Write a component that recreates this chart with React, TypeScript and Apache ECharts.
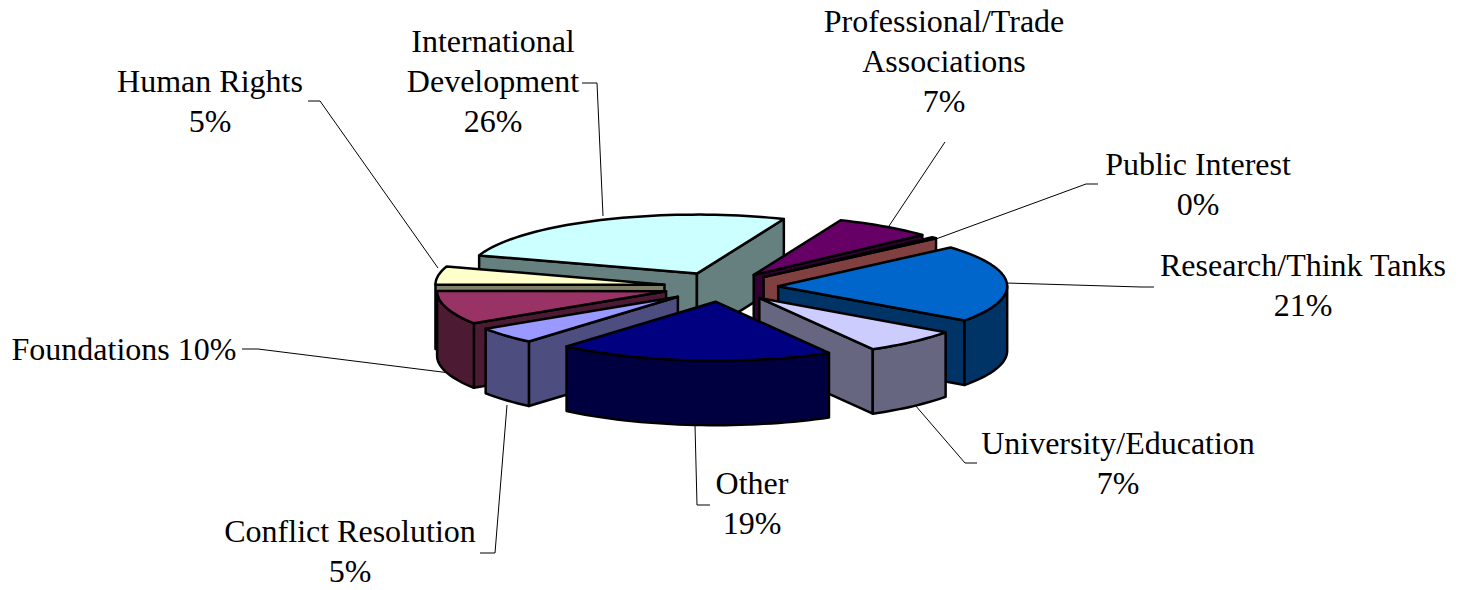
import React, { useEffect, useRef } from "react";
import * as echarts from "echarts";

const names = ["International Development", "Professional/Trade Associations", "Public Interest", "Research/Think Tanks", "University/Education", "Other", "Conflict Resolution", "Foundations", "Human Rights"];
const shares = [26.3, 7.0, 0.4, 21.4, 6.9, 19.6, 4.6, 9.2, 5.0];
const topColors = ["#CCFFFF", "#660066", "#FF8080", "#0066CC", "#CCCCFF", "#000080", "#9999FF", "#993366", "#FFFFCC"];
const sideColors = ["#668080", "#330033", "#804040", "#003366", "#666680", "#000040", "#4D4D80", "#4D1A33", "#808066"];
const drawOrder = [0, 8, 7, 1, 2, 3, 4, 6, 5];

const labelLines = [["International", "Development", "26%"], ["Professional/Trade", "Associations", "7%"], ["Public Interest", "0%"], ["Research/Think Tanks", "21%"], ["University/Education", "7%"], ["Other", "19%"], ["Conflict Resolution", "5%"], ["Foundations 10%"], ["Human Rights", "5%"]];
const labelAnchors = [[493, 81], [944, 61], [1198, 184], [1303, 285], [1118, 463], [752, 503], [350, 551], [124, 349], [210, 101]];
const leaders = [
  [[582, 83], [597, 83], [603, 216]],
  [[945, 142], [889, 226]],
  [[1098, 184], [1086, 184], [925, 243]],
  [[1154, 287], [1141, 287], [1006, 283]],
  [[977, 463], [965, 463], [915, 405]],
  [[710, 505], [697, 505], [695, 425]],
  [[480, 553], [495, 553], [507, 405]],
  [[242, 349], [258, 349], [450, 373]],
  [[308, 101], [320, 101], [438, 268]],
];

const CX = 721, CY = 287, RX = 229, RY = 59, EXPLODE = 0.25, DEPTH = 64.5, START = 288;
const LINE_STEP = 40;
const total = shares.reduce((a, b) => a + b, 0);

function sliceRange(i: number) {
  let acc = 0;
  for (let k = 0; k < i; k++) acc += shares[k];
  return [START + (acc / total) * 360, START + ((acc + shares[i]) / total) * 360];
}

function renderItem(params: any, api: any) {
  const i = api.value(0);
  const [a0, a1] = sliceRange(i);
  const mid = ((a0 + a1) / 2) * Math.PI / 180;
  const tipX = CX + EXPLODE * RX * Math.sin(mid);
  const tipY = CY - EXPLODE * RY * Math.cos(mid);
  const pt = (deg: number) => {
    const r = deg * Math.PI / 180;
    return [tipX + RX * Math.sin(r), tipY - RY * Math.cos(r)];
  };
  const arc = (d0: number, d1: number) => {
    const out: number[][] = [];
    const n = Math.max(1, Math.ceil((d1 - d0) / 2));
    for (let k = 0; k <= n; k++) out.push(pt(d0 + ((d1 - d0) * k) / n));
    return out;
  };
  const down = (p: number[]) => [p[0], p[1] + DEPTH];
  const tip = [tipX, tipY];
  const faceStyle = (fill: string) => ({ fill, stroke: "#000", lineWidth: 2.5, lineJoin: "round" });
  const children: any[] = [];
  const quad = (p: number[], q: number[]) => children.push({ type: "polygon", shape: { points: [p, q, down(q), down(p)] }, style: faceStyle(sideColors[i]) });
  const ps = pt(a0), pe = pt(a1);
  if (ps[0] < tipX) quad(tip, ps);
  if (pe[0] > tipX) quad(pe, tip);
  const a0n = a0 >= 360 ? a0 - 360 : a0, a1n = a0 >= 360 ? a1 - 360 : a1;
  const l = Math.max(a0n, 90), h = Math.min(a1n, 270);
  if (h > l) {
    const top = arc(l, h);
    children.push({ type: "polygon", shape: { points: [...top, ...top.slice().reverse().map(down)] }, style: faceStyle(sideColors[i]) });
  }
  children.push({ type: "polygon", shape: { points: [tip, ...arc(a0, a1)] }, style: faceStyle(topColors[i]) });
  return { type: "group", children };
}

export default function App() {
  const ref = useRef<HTMLDivElement>(null);
  useEffect(() => {
    const chart = echarts.init(ref.current!, null, { renderer: "svg" });
    chart.setOption({
      animation: false,
      backgroundColor: "#fff",
      series: [{
        type: "custom",
        coordinateSystem: "none",
        renderItem,
        silent: true,
        z: 2,
        data: drawOrder.map((i) => ({ name: names[i], value: [i, shares[i]] })),
      }],
      graphic: [
        ...leaders.map((points) => ({ type: "polyline", z: 1, silent: true, shape: { points }, style: { stroke: "#000", lineWidth: 1, fill: "none" } })),
        ...labelLines.flatMap((lines, i) => lines.map((text, k) => ({
          type: "text", z: 5, silent: true, x: labelAnchors[i][0], y: labelAnchors[i][1] + (k - (lines.length - 1) / 2) * LINE_STEP,
          style: { text, fill: "#000", font: '32px "Liberation Serif"', lineHeight: 32, textAlign: "center", textVerticalAlign: "middle" },
        }))),
      ],
    });
    return () => chart.dispose();
  }, []);
  return <div ref={ref} style={{ position: "fixed", left: 0, top: 0, width: 1459, height: 590 }} />;
}
